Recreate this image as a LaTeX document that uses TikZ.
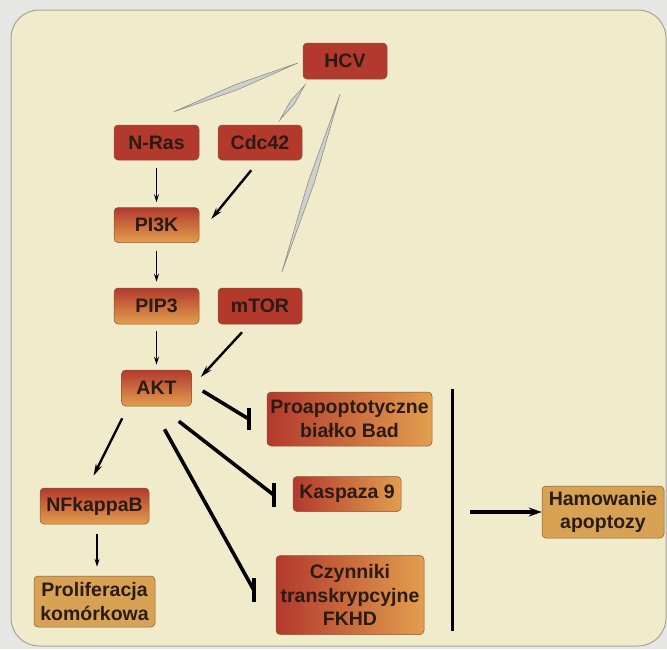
\documentclass[tikz,border=0pt]{standalone}
\usepackage{fontspec}
\setmainfont{Liberation Sans}
\usetikzlibrary{arrows.meta,calc,shadings}
\definecolor{outerbg}{HTML}{E6E6E3}
\definecolor{panelbg}{HTML}{F0ECCB}
\definecolor{panelline}{HTML}{A8A39A}
\definecolor{boxred}{HTML}{B3392D}
\definecolor{boxorange}{HTML}{E29E4E}
\definecolor{boxtan}{HTML}{D8A255}
\definecolor{boxline}{HTML}{8A5535}
\definecolor{txt}{HTML}{2A1B15}
\definecolor{spinfill}{HTML}{CFCFCC}
\definecolor{spinline}{HTML}{8E8E8A}
\newcommand\myspindle[4]{%
  \filldraw[#4] (#1) -- ($(#1)!0.5!(#2)!#3!90:(#2)$) -- (#2) -- ($(#1)!0.5!(#2)!#3!-90:(#2)$) -- cycle;}
\begin{document}
\begin{tikzpicture}[x=1pt,y=-1pt,
  box/.style={rounded corners=4pt, draw=boxline, line width=0.5pt, text=txt,
    font=\fontsize{19.5}{23.5}\selectfont\bfseries, align=center, inner sep=1pt},
  solidred/.style={box, fill=boxred},
  vgrad/.style={box, top color=boxred, bottom color=boxorange},
  hgrad/.style={box, left color=boxred, right color=boxorange},
  tan/.style={box, fill=boxtan},
  thinarr/.style={line width=1.2pt, -{Stealth[length=8pt,width=5pt]}},
  thickarr/.style={line width=2.4pt, -{Stealth[length=12pt,width=6.5pt]}},
  inh/.style={line width=3.6pt},
  bar/.style={line width=4.5pt},
  grayspin/.style={fill=spinfill, draw=spinline, line width=0.6pt}
]
\useasboundingbox (0,0) rectangle (667,649);
\fill[outerbg] (0,0) rectangle (667,649);
\filldraw[fill=panelbg, draw=panelline, line width=1pt, rounded corners=28pt] (11,10) rectangle (666,646);

% nodes
\node[solidred, minimum width=84pt, minimum height=36pt] (hcv) at (345,61) {HCV};
\node[solidred, minimum width=85pt, minimum height=35pt] (nras) at (156.5,142.5) {N-Ras};
\node[solidred, minimum width=84pt, minimum height=35pt] (cdc) at (260,142.5) {Cdc42};
\node[vgrad, minimum width=85pt, minimum height=35pt] (pi3k) at (156.5,225) {PI3K};
\node[vgrad, minimum width=85pt, minimum height=36pt] (pip3) at (156.5,306) {PIP3};
\node[solidred, minimum width=84pt, minimum height=36pt] (mtor) at (260,306) {mTOR};
\node[vgrad, minimum width=70pt, minimum height=36pt] (akt) at (156.5,388) {AKT};
\node[hgrad, minimum width=165pt, minimum height=54pt] (bad) at (349.5,419) {Proapoptotyczne\\białko Bad};
\node[hgrad, minimum width=108pt, minimum height=35pt] (kasp) at (347,494) {Kaspaza 9};
\node[hgrad, minimum width=148pt, minimum height=79pt] (fkhd) at (350,595) {Czynniki\\transkrypcyjne\\FKHD};
\node[vgrad, minimum width=109pt, minimum height=36pt] (nfkb) at (94.5,506) {NFkappaB};
\node[tan, minimum width=121pt, minimum height=51pt] (prol) at (94.5,601.5) {Proliferacja\\komórkowa};
\node[tan, minimum width=122pt, minimum height=52pt] (ham) at (603,512) {Hamowanie\\apoptozy};

% gray spindle arrows from HCV
\coordinate (h1) at ($(hcv.west)+(-5,2)$);
\coordinate (n1) at ($(nras.north)+(17.5,-13)$);
\myspindle{h1}{n1}{2.8pt}{grayspin}
\coordinate (h2) at ($(hcv.south west)+(2,6)$);
\coordinate (c2) at ($(cdc.north)+(20,-5)$);
\myspindle{h2}{c2}{2.4pt}{grayspin}
\coordinate (h3) at ($(hcv.south)+(-5,15)$);
\coordinate (m3) at ($(mtor.north)+(22,-16)$);
\myspindle{h3}{m3}{3pt}{grayspin}

% black activation arrows
\draw[thinarr] ($(nras.south)+(0,8)$) -- ($(pi3k.north)+(0,-5)$);
\draw[thickarr] ($(cdc.south east)+(-51,10)$) -- ($(pi3k.east)+(12,-6)$);
\draw[thinarr] ($(pi3k.south)+(0,8)$) -- ($(pip3.north)+(0,-6)$);
\draw[thinarr] ($(pip3.south)+(0,7)$) -- ($(akt.north)+(0,-5)$);
\draw[thickarr] ($(mtor.south)+(-18,8)$) -- ($(akt.east)+(9,-11)$);
\draw[thickarr] ($(akt.south west)+(1,12)$) -- ($(nfkb.north)+(-1,-12)$);
\draw[thinarr] ($(nfkb.south)+(2.5,10)$) -- ($(prol.north)+(2.5,-9)$);

% inhibition lines
\coordinate (b1) at ($(bad.west)+(-18,0)$);
\draw[inh] ($(akt.east)+(11,3)$) -- (b1);
\draw[bar] ($(b1)+(0,-11)$) -- ($(b1)+(0,11)$);
\coordinate (b2) at ($(kasp.west)+(-19,1)$);
\draw[inh] ($(akt.south east)+(-13,15)$) -- (b2);
\draw[bar] ($(b2)+(0,-12)$) -- ($(b2)+(0,12)$);
\coordinate (b3) at ($(fkhd.west)+(-22,-5)$);
\draw[inh] ($(akt.south)+(8,23)$) -- (b3);
\draw[bar] ($(b3)+(0,-12)$) -- ($(b3)+(0,12)$);

% collecting bar and final arrow
\coordinate (vt) at (452,389);
\coordinate (vb) at (452,631);
\draw[line width=3pt] (vt) -- (vb);
\draw[line width=3.6pt, -{Stealth[length=13pt,width=9pt]}] (470,512) -- (ham.west);
\end{tikzpicture}
\end{document}
